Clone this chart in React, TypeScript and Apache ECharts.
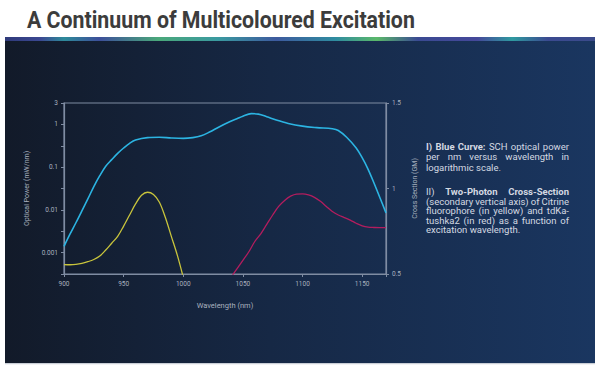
import React, { useEffect, useRef } from "react";
import * as echarts from "echarts";

// ---------------- data ----------------
const blueWavelength = [
  900, 905, 910, 915, 920, 925, 930, 935, 940, 945, 950, 955, 960, 970, 980, 990, 1000, 1008, 1015, 1022, 1030,
  1038, 1045, 1050, 1057, 1063, 1070, 1078, 1088, 1100, 1112, 1125, 1130, 1137, 1145, 1150, 1155, 1160, 1165, 1170,
];
const bluePower = [
  0.0014, 0.0027, 0.005, 0.0095, 0.018, 0.035, 0.063, 0.105, 0.15, 0.21, 0.28, 0.36, 0.43, 0.49, 0.5, 0.48, 0.47,
  0.49, 0.54, 0.66, 0.87, 1.12, 1.35, 1.55, 1.78, 1.74, 1.51, 1.26, 1.05, 0.91, 0.84, 0.79, 0.72, 0.5, 0.28, 0.166,
  0.089, 0.042, 0.019, 0.0085,
];

const yellowWavelength = [
  900, 905, 910, 915, 920, 925, 930, 935, 940, 945, 950, 955, 960, 965, 970, 975, 980, 985, 990, 995, 1000,
];
const yellowCrossSection = [
  0.555, 0.554, 0.556, 0.562, 0.572, 0.585, 0.605, 0.64, 0.68, 0.72, 0.78, 0.845, 0.91, 0.96, 0.978, 0.965, 0.92,
  0.83, 0.72, 0.61, 0.48,
];

const redWavelength = [
  1040, 1045, 1050, 1055, 1060, 1065, 1070, 1075, 1080, 1085, 1090, 1095, 1100, 1105, 1110, 1115, 1120, 1125, 1130,
  1135, 1140, 1145, 1150, 1155, 1160, 1165, 1170,
];
const redCrossSection = [
  0.48, 0.53, 0.58, 0.63, 0.69, 0.735, 0.79, 0.845, 0.895, 0.93, 0.955, 0.967, 0.968, 0.962, 0.948, 0.925, 0.895,
  0.866, 0.845, 0.83, 0.815, 0.797, 0.782, 0.774, 0.772, 0.771, 0.771,
];

// left (log) axis: exponents that carry a label, and their texts
const logTickExponents = [0.5, 0, -1, -2, -3];
const logTickLabels = ["3", "1", "0.1", "0.01", "0.001"];
// bottom axis labelled ticks
const wavelengthTicks = [900, 950, 1000, 1050, 1100, 1150];

const titleText = "A Continuum of Multicoloured Excitation";
type Seg = { t: string; b?: boolean };
const noteParagraphs: Seg[][][] = [
  [
    [{ t: "I) Blue Curve:", b: true }, { t: "SCH optical power" }],
    [{ t: "per nm versus wavelength in" }],
    [{ t: "logarithmic scale." }],
  ],
  [
    [{ t: "II)" }, { t: "Two-Photon Cross-Section", b: true }],
    [{ t: "(secondary vertical axis) of Citrine" }],
    [{ t: "fluorophore (in yellow) and tdKa-" }],
    [{ t: "tushka2 (in red) as a function of" }],
    [{ t: "excitation wavelength." }],
  ],
];

// ---------------- helpers ----------------
const FONT = "Roboto";
let measureCtx: CanvasRenderingContext2D | null = null;
function measure(text: string, size: number, bold: boolean, family = FONT) {
  if (!measureCtx) measureCtx = document.createElement("canvas").getContext("2d");
  if (!measureCtx) return text.length * size * 0.5;
  measureCtx.font = `${bold ? "bold " : ""}${size}px ${family}`;
  return measureCtx.measureText(text).width;
}

function buildNotes(): any[] {
  const TEXT_X = 426;
  const TEXT_W = 143;
  const paraTop = [146, 191.5];
  const lineGap = [10.5, 9.6];
  let size = 9 * (97 / measure("excitation wavelength.", 9, false));
  size = Math.max(7.5, Math.min(9.5, size));
  const els: any[] = [];
  noteParagraphs.forEach((para, pi) => {
    para.forEach((line, li) => {
      const words: { w: string; b: boolean }[] = [];
      line.forEach((seg) => seg.t.split(" ").forEach((w) => words.push({ w, b: !!seg.b })));
      const widths = words.map((o) => measure(o.w, size, o.b));
      const total = widths.reduce((a, b) => a + b, 0);
      const spaceW = measure(" ", size, false);
      const last = li === para.length - 1;
      const gap =
        last || words.length < 2 ? spaceW : Math.max((TEXT_W - total) / (words.length - 1), spaceW * 0.6);
      let x = TEXT_X;
      const y = paraTop[pi] + li * lineGap[pi];
      words.forEach((o, i) => {
        els.push({
          type: "text",
          x,
          y,
          z: 20,
          silent: true,
          style: {
            text: o.w,
            fontSize: size,
            fontWeight: o.b ? "bold" : "normal",
            fontFamily: FONT,
            fill: "#d4d9e2",
            textVerticalAlign: "middle",
            verticalAlign: "middle",
          },
        });
        x += widths[i] + gap;
      });
    });
  });
  return els;
}

// ---------------- component ----------------
export default function App() {
  const ref = useRef<HTMLDivElement>(null);

  useEffect(() => {
    if (!ref.current) return;
    const chart = echarts.init(ref.current, undefined, { renderer: "svg" });

    const titleSize = 24;
    const titleScale = 388 / measure(titleText, titleSize, true);

    const axisColor = "#7f8ca2";
    const labelColor = "#a9b1bf";

    const option: any = {
      animation: false,
      backgroundColor: "#ffffff",
      graphic: [
        {
          type: "rect",
          z: -10,
          silent: true,
          shape: { x: 5, y: 37, width: 590, height: 326 },
          style: {
            fill: new echarts.graphic.LinearGradient(0, 0, 1, 0, [
              { offset: 0, color: "#121a29" },
              { offset: 0.45, color: "#162845" },
              { offset: 1, color: "#1a3660" },
            ]),
          },
        },
        {
          type: "rect",
          z: -9,
          silent: true,
          shape: { x: 5, y: 37, width: 590, height: 4 },
          style: {
            fill: new echarts.graphic.LinearGradient(0, 0, 1, 0, [
              { offset: 0, color: "#2f3a7a" },
              { offset: 0.06, color: "#3b4892" },
              { offset: 0.1, color: "#2e8a9a" },
              { offset: 0.16, color: "#3d4f9a" },
              { offset: 0.26, color: "#4aa87a" },
              { offset: 0.36, color: "#3a9aa0" },
              { offset: 0.46, color: "#3d5a9e" },
              { offset: 0.56, color: "#2f8ca0" },
              { offset: 0.63, color: "#5ab86a" },
              { offset: 0.7, color: "#3a4a92" },
              { offset: 0.8, color: "#45489a" },
              { offset: 0.86, color: "#2f9aa0" },
              { offset: 0.92, color: "#3b4a90" },
              { offset: 1, color: "#3a4a8a" },
            ]),
          },
        },
        {
          type: "rect",
          z: -9,
          silent: true,
          shape: { x: 5, y: 363, width: 590, height: 1.2 },
          style: { fill: "#c9ced6" },
        },
        {
          type: "text",
          x: 27,
          y: 20,
          z: 20,
          scaleX: titleScale,
          silent: true,
          style: {
            text: titleText,
            fontSize: titleSize,
            fontWeight: "bold",
            fontFamily: FONT,
            fill: "#3c3c3c",
            textVerticalAlign: "middle",
            verticalAlign: "middle",
          },
        },
        ...buildNotes(),
      ],
      grid: {
        left: 64,
        right: 214,
        top: 103,
        bottom: 97,
        show: true,
        borderColor: axisColor,
        borderWidth: 1.2,
        backgroundColor: "transparent",
      },
      xAxis: {
        type: "value",
        min: 900,
        max: 1170,
        interval: 50,
        name: "Wavelength (nm)",
        nameLocation: "middle",
        nameGap: 27,
        nameTextStyle: { color: labelColor, fontSize: 7.5, fontFamily: FONT },
        axisLine: { show: true, onZero: false, lineStyle: { color: axisColor, width: 1.2 } },
        axisTick: { show: true, length: 3, lineStyle: { color: axisColor } },
        axisLabel: {
          color: labelColor,
          fontSize: 6.5,
          fontFamily: FONT,
          margin: 6,
          formatter: (v: number) => (wavelengthTicks.indexOf(v) >= 0 ? String(v) : ""),
        },
        splitLine: { show: false },
      },
      yAxis: [
        {
          type: "value",
          position: "left",
          min: -3.5,
          max: 0.5,
          interval: 0.5,
          name: "Optical Power (mW/nm)",
          nameLocation: "middle",
          nameGap: 30,
          nameRotate: 90,
          nameTextStyle: { color: labelColor, fontSize: 7, fontFamily: FONT },
          axisLine: { show: true, onZero: false, lineStyle: { color: axisColor, width: 1.2 } },
          axisTick: { show: true, length: 3, lineStyle: { color: axisColor } },
          axisLabel: {
            color: labelColor,
            fontSize: 6.5,
            fontFamily: FONT,
            margin: 6,
            formatter: (v: number) => {
              const i = logTickExponents.findIndex((e) => Math.abs(e - v) < 1e-6);
              return i >= 0 ? logTickLabels[i] : "";
            },
          },
          splitLine: { show: false },
        },
        {
          type: "value",
          position: "right",
          min: 0.5,
          max: 1.5,
          interval: 0.5,
          name: "Cross Section (GM)",
          nameLocation: "middle",
          nameGap: 22,
          nameRotate: 90,
          nameTextStyle: { color: labelColor, fontSize: 7, fontFamily: FONT },
          axisLine: { show: true, onZero: false, lineStyle: { color: axisColor, width: 1.2 } },
          axisTick: { show: true, length: 3, lineStyle: { color: axisColor } },
          axisLabel: { color: labelColor, fontSize: 6.5, fontFamily: FONT, margin: 6 },
          splitLine: { show: false },
        },
      ],
      series: [
        {
          name: "SCH optical power",
          type: "line",
          yAxisIndex: 0,
          data: blueWavelength.map((w, i) => [w, Math.log10(bluePower[i])]),
          smooth: 0.35,
          showSymbol: false,
          clip: true,
          lineStyle: { color: "#2cb4e2", width: 1.6 },
        },
        {
          name: "Citrine",
          type: "line",
          yAxisIndex: 1,
          data: yellowWavelength.map((w, i) => [w, yellowCrossSection[i]]),
          smooth: 0.35,
          showSymbol: false,
          clip: true,
          lineStyle: { color: "#c8c43c", width: 1.3 },
        },
        {
          name: "tdKatushka2",
          type: "line",
          yAxisIndex: 1,
          data: redWavelength.map((w, i) => [w, redCrossSection[i]]),
          smooth: 0.35,
          showSymbol: false,
          clip: true,
          lineStyle: { color: "#b31d5e", width: 1.3 },
        },
      ],
    };

    chart.setOption(option);
    return () => chart.dispose();
  }, []);

  return (
    <div
      ref={ref}
      style={{ position: "absolute", left: 0, top: 0, width: 600, height: 371 }}
    />
  );
}
